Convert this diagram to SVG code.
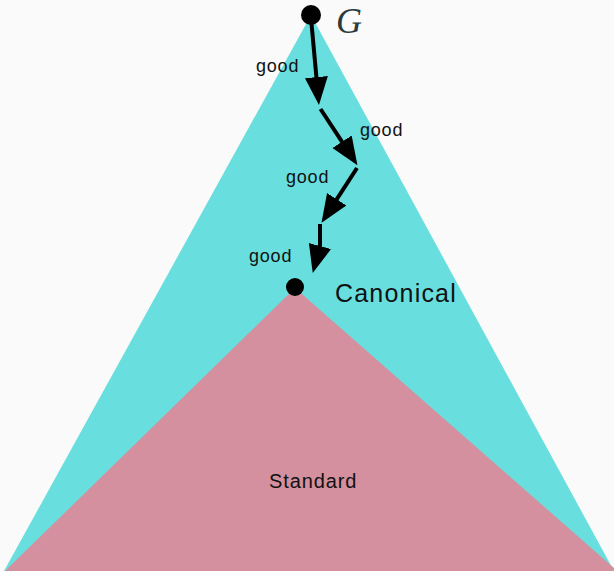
<svg xmlns="http://www.w3.org/2000/svg" width="614" height="571" viewBox="0 0 614 571">
<style>
.lbl{font-family:"Liberation Sans",Arial,sans-serif;font-size:18px;letter-spacing:0.8px;fill:#111}
.edge{stroke:#000;stroke-width:4;fill:none}
</style>
<defs>
<marker id="ah" markerUnits="userSpaceOnUse" markerWidth="30" markerHeight="24" refX="1" refY="11.5" orient="auto">
<path d="M0,0 L28,11.5 L0,23 Z" fill="#000"/>
</marker>
</defs>
<rect width="614" height="571" fill="#fafafa"/>
<g id="region-all"><polygon points="311,15 4,571 614,571" fill="#68dede"/></g>
<g id="region-standard"><polygon points="295,288 5,571 614,571 614,568" fill="#d4909e"/></g>
<g id="connectors">
<path class="edge" d="M311,18 L316.5,78.1" marker-end="url(#ah)"/>
<path class="edge" d="M320.5,109 L342.6,142.6" marker-end="url(#ah)"/>
<path class="edge" d="M357,168 L336.2,200.1" marker-end="url(#ah)"/>
<path class="edge" d="M320,224 L320,246 L319.74,246.97" marker-end="url(#ah)"/>
</g>
<g id="node-G"><circle cx="311" cy="15" r="10" fill="#000"/>
<text x="336" y="33" style="font-family:'Liberation Serif','Times New Roman',serif;font-style:italic;font-size:36px;fill:#2a3b3b">G</text></g>
<g id="node-canonical"><circle cx="295" cy="287" r="9" fill="#000"/>
<text x="335" y="302" style="font-family:'Liberation Sans',Arial,sans-serif;font-size:25px;letter-spacing:1.2px;fill:#111">Canonical</text></g>
<g id="node-standard"><text x="269" y="488" style="font-family:'Liberation Sans',Arial,sans-serif;font-size:20px;letter-spacing:0.9px;fill:#111">Standard</text></g>
<g id="labels">
<text class="lbl" x="256" y="72">good</text>
<text class="lbl" x="360" y="136">good</text>
<text class="lbl" x="286" y="183">good</text>
<text class="lbl" x="249" y="262">good</text>
</g>
</svg>
